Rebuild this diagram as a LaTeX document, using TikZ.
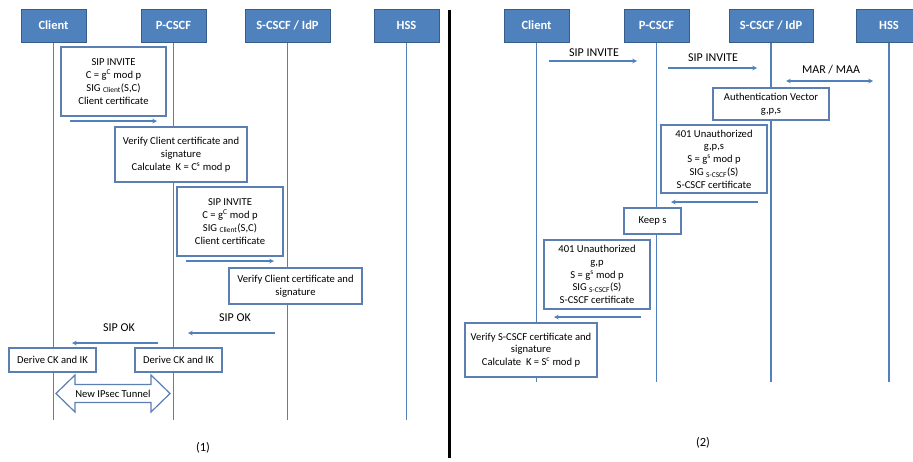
\documentclass[tikz,border=0pt]{standalone}
\usepackage{fontspec}
\setmainfont{Carlito}
\usepackage{tikz}
\usetikzlibrary{arrows}
\definecolor{hdrfill}{HTML}{4F81BD}
\definecolor{hdrdraw}{HTML}{385D8A}
\definecolor{lineblue}{HTML}{4F81BD}
\definecolor{boxdraw}{HTML}{5B7FB3}
\tikzstyle{arrow} = [line width=1.1pt,->,>=stealth,draw=lineblue]
\tikzstyle{dblarrow} = [line width=1.1pt,<->,>=stealth,draw=lineblue]
\tikzstyle{life} = [line width=1.3pt,draw=lineblue]
\tikzstyle{header} = [rectangle, minimum height=33pt, fill=hdrfill, draw=hdrdraw, line width=1pt, text=white, font=\fontsize{12.5}{14}\selectfont\bfseries]
\tikzstyle{rec} = [rectangle, draw=boxdraw, line width=1.2pt, fill=white, align=center, inner sep=2pt, font=\fontsize{10.6}{12.8}\selectfont]
\tikzstyle{msg} = [font=\fontsize{12}{14}\selectfont]
\tikzstyle{caption} = [font=\fontsize{12.5}{14}\selectfont]
\tikzstyle{tunnelLine} = [draw=boxdraw, line width=1.2pt, fill=white]

\begin{document}
\begin{tikzpicture}[x=1pt, y=-1pt]
				\useasboundingbox [fill=white] (0,0) rectangle (913,461);
				\clip (0,0) rectangle (913,461);
				% (1)
				\node (client) [header, minimum width=65pt] at (53.5,25.5) {Client};
				\node (pcscf) [header, minimum width=65pt] at (173.5,25.5) {P-CSCF};
				\node (scscf) [header, minimum width=85pt] at (287.5,25.5) {S-CSCF / IdP};
				\node (hss) [header, minimum width=65pt] at (406.5,25.5) {HSS};
				\coordinate (lend) at (0,420);
				\foreach \n in {client,pcscf,scscf,hss}
					\draw [life] (\n.south) -- (\n |- lend);
				\node (inv1) [rec, minimum width=105pt, minimum height=69pt] at (113.5,81.5) {SIP INVITE\\C = g\textsuperscript{C} mod p\\SIG \textsubscript{Client}(S,C)\\Client certificate};
				\node (ver1) [rec, minimum width=132pt, minimum height=55pt] at (181,154.5) {Verify Client certificate and\\signature\\Calculate\ \ K = C\textsuperscript{s} mod p};
				\node (inv2) [rec, minimum width=106pt, minimum height=69pt] at (230,221.5) {SIP INVITE\\C = g\textsuperscript{C} mod p\\SIG \textsubscript{Client}(S,C)\\Client certificate};
				\node (ver2) [rec, minimum width=133pt, minimum height=36pt] at (295.5,286) {Verify Client certificate and\\signature};
				\node (ok1) [msg] at (235,318) {SIP OK};
				\node (ok2) [msg] at (119,328) {SIP OK};
				\node (der1) [rec, minimum width=87pt, minimum height=24pt] at (52.5,360) {Derive CK and IK};
				\node (der2) [rec, minimum width=87pt, minimum height=24pt] at (178.5,360) {Derive CK and IK};
				\draw [tunnelLine] (56,393.5) -- (75,375) -- (75,384.5) -- (151,384.5) -- (151,375) -- (170,393.5)
					-- (151,412) -- (151,402.5) -- (75,402.5) -- (75,412) -- cycle;
				\node (tunnel) [font=\fontsize{10.6}{12}\selectfont] at (113,393.5) {New IPsec Tunnel};
				\node (cap1) [caption] at (203,448) {(1)};
				\coordinate (m1s) at (70,121);
				\coordinate (m1e) at (157,121);
				\coordinate (m2s) at (186,261);
				\coordinate (m2e) at (274,261);
				\coordinate (m3s) at (275,333);
				\coordinate (m3e) at (188,333);
				\coordinate (m4s) at (158,343);
				\coordinate (m4e) at (72,343);
				\draw [arrow] (m1s) -- (m1e);
				\draw [arrow] (m2s) -- (m2e);
				\draw [arrow] (m3s) -- (m3e);
				\draw [arrow] (m4s) -- (m4e);
				\draw [line width=3pt] (449,10) -- (449,458);
				% (2)
				\node (client2) [header, minimum width=65pt] at (536.5,25.5) {Client};
				\node (pcscf2) [header, minimum width=65pt] at (656.5,25.5) {P-CSCF};
				\node (scscf2) [header, minimum width=84pt] at (771,25.5) {S-CSCF / IdP};
				\node (hss2) [header, minimum width=65pt] at (889,25.5) {HSS};
				\coordinate (rend) at (0,382);
				\foreach \n in {client2,pcscf2,scscf2,hss2}
					\draw [life] (\n.south) -- (\n |- rend);
				\node (inv3) [msg] at (594,53) {SIP INVITE};
				\node (inv4) [msg] at (713,58) {SIP INVITE};
				\node (mar) [msg] at (831,70) {MAR / MAA};
				\node (av) [rec, minimum width=116pt, minimum height=32pt] at (771,104) {Authentication Vector\\g,p,s};
				\node (un1) [rec, minimum width=106pt, minimum height=68pt] at (714,159) {401 Unauthorized\\g,p,s\\S = g\textsuperscript{s} mod p\\SIG \textsubscript{S-CSCF}(S)\\S-CSCF certificate};
				\node (keep) [rec, minimum width=57pt, minimum height=26pt] at (652.5,221) {Keep s};
				\node (un2) [rec, minimum width=106pt, minimum height=69pt] at (597,274.5) {401 Unauthorized\\g,p\\S = g\textsuperscript{s} mod p\\SIG \textsubscript{S-CSCF}(S)\\S-CSCF certificate};
				\node (ver3) [rec, minimum width=132pt, minimum height=54pt] at (531,350) {Verify S-CSCF certificate and\\signature\\Calculate\ \ K = S\textsuperscript{c} mod p};
				\node (cap2) [caption] at (703,443) {(2)};
				\coordinate (n1s) at (549,61);
				\coordinate (n1e) at (637,61);
				\coordinate (n2s) at (668,68);
				\coordinate (n2e) at (757,68);
				\coordinate (n3s) at (786,81);
				\coordinate (n3e) at (873,81);
				\coordinate (n4s) at (758,202);
				\coordinate (n4e) at (671,202);
				\coordinate (n5s) at (641,317);
				\coordinate (n5e) at (554,317);
				\draw [arrow] (n1s) -- (n1e);
				\draw [arrow] (n2s) -- (n2e);
				\draw [dblarrow] (n3s) -- (n3e);
				\draw [arrow] (n4s) -- (n4e);
				\draw [arrow] (n5s) -- (n5e);
			\end{tikzpicture}
\end{document}
